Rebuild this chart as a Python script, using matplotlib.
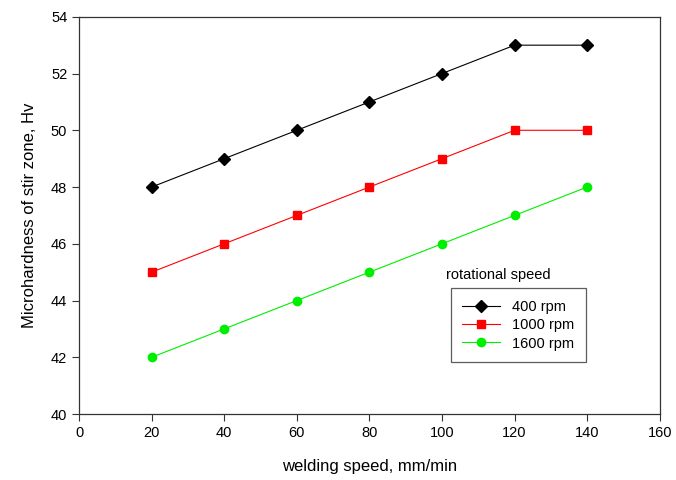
import matplotlib
matplotlib.use("Agg")
import matplotlib.pyplot as plt

# welding speed (mm/min) and stir zone microhardness (Hv)
speed = [20, 40, 60, 80, 100, 120, 140]
hv_400 = [48, 49, 50, 51, 52, 53, 53]
hv_1000 = [45, 46, 47, 48, 49, 50, 50]
hv_1600 = [42, 43, 44, 45, 46, 47, 48]

plt.rcParams['font.family'] = ['Liberation Sans', 'DejaVu Sans']

fig = plt.figure(figsize=(6.76, 4.8), dpi=100)
ax = fig.add_axes([0.117, 0.1375, 0.859, 0.8275])

ax.plot(speed, hv_400, color='black', marker='D', markersize=6, lw=0.8, label='400 rpm')
ax.plot(speed, hv_1000, color='red', marker='s', markersize=6, lw=0.8, label='1000 rpm')
ax.plot(speed, hv_1600, color='#00ee00', marker='o', markersize=6, lw=0.8, label='1600 rpm')

ax.set_xlim(0, 160)
ax.set_ylim(40, 54)
ax.set_xticks(range(0, 161, 20))
ax.set_yticks(range(40, 55, 2))
ax.tick_params(direction='out', length=5, labelsize=10.5, color='#333333')
for s in ax.spines.values():
    s.set_color('#333333')
    s.set_linewidth(0.9)

ax.set_xlabel('welding speed, mm/min', fontsize=12, labelpad=14)
ax.set_ylabel('Microhardness of stir zone, Hv', fontsize=12, labelpad=10)

leg = ax.legend(loc='upper left', bbox_to_anchor=(0.64, 0.317), fontsize=10.5,
                frameon=True, fancybox=False, edgecolor='#333333', borderpad=0.8,
                handlelength=2.6, labelspacing=0.3, borderaxespad=0)
leg.get_frame().set_linewidth(0.9)
ax.text(101, 44.75, 'rotational speed', fontsize=10.5)

fig.savefig('out.png', dpi=100)
